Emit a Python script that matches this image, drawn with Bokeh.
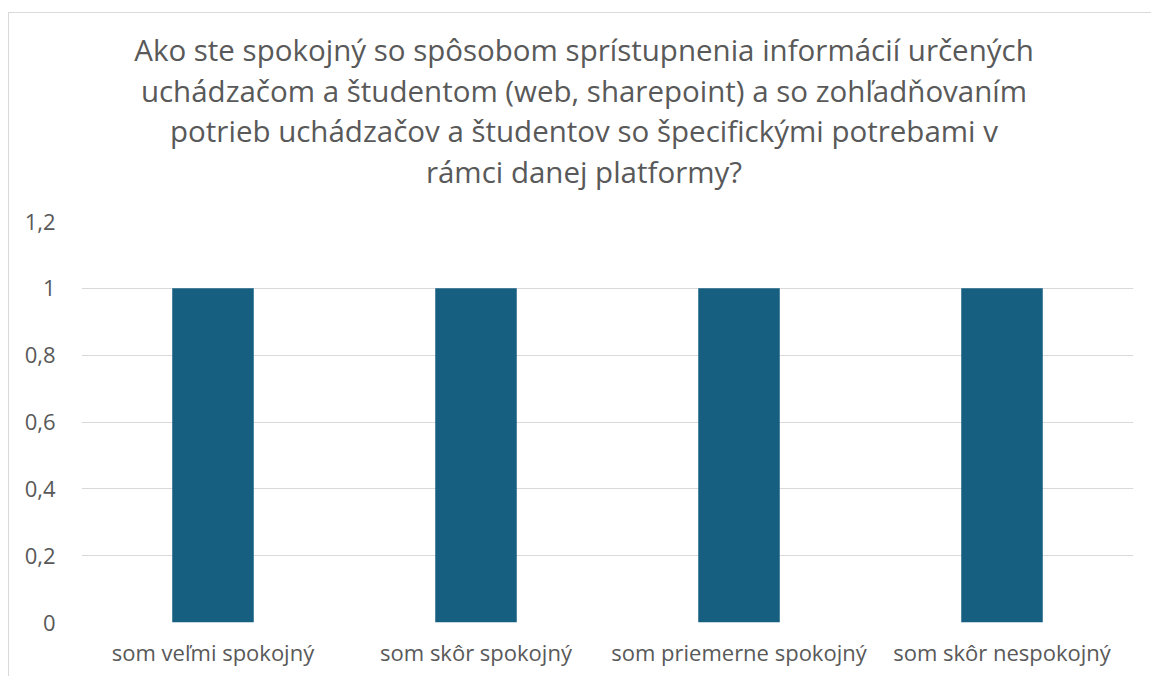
from bokeh.plotting import figure
from bokeh.models import FactorRange, Range1d, FixedTicker, ColumnDataSource, Div
from bokeh.layouts import column
from bokeh.embed import file_html
from bokeh.resources import INLINE

categories = ["som veľmi spokojný", "som skôr spokojný", "som priemerne spokojný", "som skôr nespokojný"]
values = [1, 1, 1, 1]
y_ticks = [0, 0.2, 0.4, 0.6, 0.8, 1.0, 1.2]
y_tick_labels = ["0", "0,2", "0,4", "0,6", "0,8", "1", "1,2"]
title_lines = [
    "Ako ste spokojný so spôsobom sprístupnenia informácií určených",
    "uchádzačom a študentom (web, sharepoint) a so zohľadňovaním",
    "potrieb uchádzačov a študentov so špecifickými potrebami v",
    "rámci danej platformy?",
]

FONT = "Open Sans"
GRAY = "#595959"

title_html = ('<div style="box-sizing:border-box;width:1143px;padding-top:17px;padding-left:7px;'
              'text-align:center;font-family:\'Open Sans\';font-size:29.5px;line-height:40.5px;'
              'color:#595959;white-space:nowrap;">' + "<br>".join(title_lines) + '</div>')
title_div = Div(text=title_html, width=1143, height=188, margin=0)

p = figure(width=1143, height=475, x_range=FactorRange(*categories, range_padding=0),
           y_range=Range1d(0, 1.2), output_backend="svg", toolbar_location=None,
           min_border_left=72, min_border_right=19, min_border_top=20, min_border_bottom=54)
p.margin = 0
p.outline_line_color = None

src = ColumnDataSource(dict(x=categories, top=values))
p.vbar(x="x", top="top", width=0.31, source=src, fill_color="#175F80", line_color=None)

p.xgrid.grid_line_color = None
p.ygrid.grid_line_color = "#d9d9d9"
p.ygrid.grid_line_width = 1
p.yaxis.ticker = FixedTicker(ticks=y_ticks)
p.yaxis.major_label_overrides = {t: l for t, l in zip(y_ticks, y_tick_labels)}

for ax in (p.xaxis[0], p.yaxis[0]):
    ax.axis_line_color = None
    ax.major_tick_line_color = None
    ax.minor_tick_line_color = None
    ax.major_label_text_color = GRAY
    ax.major_label_text_font = FONT
p.yaxis.major_label_text_font_size = "22px"
p.yaxis.major_label_standoff = 20
p.xaxis.major_label_text_font_size = "22px"
p.xaxis.major_label_standoff = 8

layout = column(title_div, p, spacing=0)
layout.margin = (12, 0, 0, 8)
layout.styles = {"border-top": "1px solid #d9d9d9", "border-left": "1px solid #d9d9d9"}

open("out.html", "w").write(file_html(layout, INLINE))
